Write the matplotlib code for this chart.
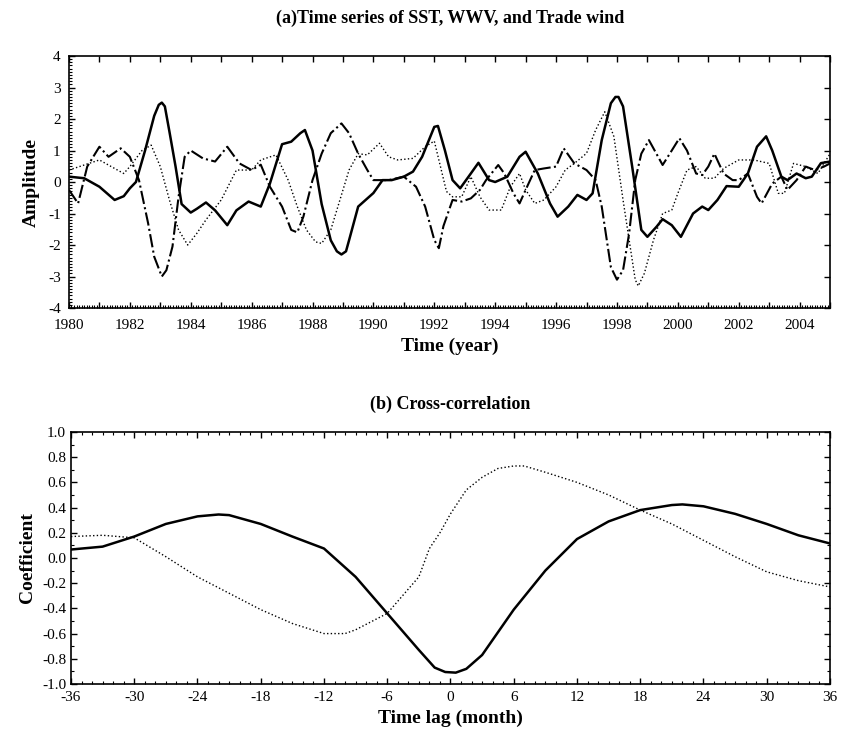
import matplotlib
matplotlib.use("Agg")
import matplotlib.pyplot as plt
from matplotlib.ticker import MultipleLocator, FuncFormatter

plt.rcParams['font.family'] = ['Liberation Serif', 'DejaVu Serif']
plt.rcParams['axes.unicode_minus'] = False

# (a) time series
sst_year = [1980.0, 1980.5, 1981.0, 1981.5, 1981.8, 1982.0, 1982.2, 1982.5, 1982.8, 1982.95, 1983.05,
            1983.15, 1983.3, 1983.5, 1983.7, 1984.0, 1984.2, 1984.5, 1984.8, 1985.2, 1985.5, 1985.9,
            1986.3, 1986.6, 1987.0, 1987.3, 1987.6, 1987.75, 1988.0, 1988.3, 1988.6, 1988.8, 1988.95,
            1989.1, 1989.2, 1989.5, 1990.0, 1990.3, 1990.6, 1991.0, 1991.3, 1991.6, 1992.0, 1992.12,
            1992.35, 1992.6, 1992.85, 1993.2, 1993.45, 1993.8, 1994.0, 1994.4, 1994.8, 1995.0,
            1995.4, 1995.8, 1996.05, 1996.4, 1996.7, 1997.0, 1997.2, 1997.5, 1997.8, 1997.95, 1998.05,
            1998.2, 1998.5, 1998.8, 1999.0, 1999.3, 1999.5, 1999.8, 2000.1, 2000.5, 2000.8,
            2001.0, 2001.3, 2001.6, 2002.0, 2002.3, 2002.6, 2002.9, 2003.1, 2003.4, 2003.6,
            2003.9, 2004.2, 2004.4, 2004.7, 2005.0]
sst = [0.17, 0.12, -0.15, -0.57, -0.45, -0.2, 0.0, 1.0, 2.1, 2.45, 2.52,
       2.4, 1.6, 0.5, -0.7, -0.97, -0.85, -0.65, -0.9, -1.37, -0.9, -0.62,
       -0.78, -0.05, 1.2, 1.28, 1.55, 1.65, 1.0, -0.7, -1.85, -2.2, -2.3,
       -2.2, -1.85, -0.78, -0.35, 0.06, 0.06, 0.17, 0.33, 0.8, 1.75, 1.78,
       1.0, 0.06, -0.2, 0.27, 0.61, 0.06, 0.0, 0.17, 0.8, 0.96,
       0.27, -0.68, -1.1, -0.78, -0.41, -0.57, -0.36, 1.33, 2.5, 2.7, 2.7,
       2.4, 0.49, -1.52, -1.74, -1.42, -1.18, -1.37, -1.74, -1.0, -0.78,
       -0.89, -0.57, -0.13, -0.15, 0.27, 1.12, 1.45, 1.0, 0.17, 0.06,
       0.27, 0.12, 0.17, 0.6, 0.65]

wwv_year = [1980.0, 1980.3, 1980.6, 1981.0, 1981.3, 1981.7, 1982.0, 1982.3, 1982.6, 1982.8,
            1983.05, 1983.2, 1983.4, 1983.6, 1983.8, 1984.0, 1984.4, 1984.8, 1985.2, 1985.6,
            1986.0, 1986.3, 1986.6, 1987.0, 1987.3, 1987.5, 1987.7, 1988.0, 1988.3, 1988.6,
            1988.95, 1989.2, 1989.5, 1989.8, 1990.0, 1990.5, 1991.0, 1991.4, 1991.7, 1992.0,
            1992.15, 1992.3, 1992.6, 1992.9, 1993.2, 1993.5, 1993.7, 1994.1, 1994.3, 1994.6,
            1994.8, 1995.0, 1995.3, 1995.6, 1996.0, 1996.25, 1996.6, 1997.0, 1997.3, 1997.5,
            1997.8, 1998.0, 1998.2, 1998.4, 1998.6, 1998.8, 1999.05, 1999.5, 1999.8, 2000.05,
            2000.3, 2000.6, 2000.8, 2001.0, 2001.2, 2001.5, 2001.8, 2002.0, 2002.3, 2002.6,
            2002.75, 2003.1, 2003.4, 2003.6, 2003.9, 2004.2, 2004.5, 2004.8, 2005.0]
wwv = [-0.25, -0.68, 0.49, 1.12, 0.8, 1.07, 0.8, 0.06, -1.31, -2.37,
       -3.0, -2.8, -2.05, -0.47, 0.8, 1.0, 0.75, 0.65, 1.12, 0.59,
       0.38, 0.55, -0.15, -0.78, -1.52, -1.6, -1.1, 0.06, 0.9, 1.55,
       1.86, 1.55, 0.9, 0.38, 0.06, 0.06, 0.17, -0.15, -0.78, -1.84,
       -2.1, -1.4, -0.57, -0.62, -0.52, -0.25, 0.06, 0.54, 0.27, -0.36,
       -0.68, -0.25, 0.38, 0.43, 0.49, 1.07, 0.59, 0.38, 0.06, -0.78,
       -2.7, -3.1, -2.8, -1.63, 0.06, 0.9, 1.33, 0.54, 1.0, 1.39,
       1.0, 0.27, 0.22, 0.49, 0.9, 0.27, 0.06, 0.06, 0.27, -0.47,
       -0.68, -0.05, 0.17, -0.25, 0.06, 0.49, 0.38, 0.49, 0.59]

wind_year = [1980.0, 1980.5, 1981.0, 1981.5, 1981.8, 1982.0, 1982.4, 1982.7, 1983.0, 1983.3,
             1983.6, 1983.9, 1984.2, 1984.5, 1985.0, 1985.5, 1986.0, 1986.3, 1986.8, 1987.2,
             1987.5, 1987.8, 1988.1, 1988.3, 1988.6, 1988.9, 1989.2, 1989.5, 1989.8, 1990.2,
             1990.5, 1990.8, 1991.3, 1991.7, 1992.0, 1992.2, 1992.4, 1992.6, 1992.9, 1993.2,
             1993.5, 1993.8, 1994.2, 1994.5, 1994.8, 1995.0, 1995.3, 1995.6, 1996.0, 1996.3,
             1996.6, 1997.0, 1997.3, 1997.6, 1997.9, 1998.2, 1998.4, 1998.6, 1998.7, 1998.9,
             1999.2, 1999.5, 1999.8, 2000.0, 2000.3, 2000.6, 2000.9, 2001.2, 2001.5, 2002.0,
             2002.5, 2003.0, 2003.3, 2003.5, 2003.8, 2004.2, 2004.6, 2005.0]
wind = [0.38, 0.54, 0.7, 0.43, 0.27, 0.49, 1.0, 1.17, 0.49, -0.57,
        -1.52, -2.0, -1.63, -1.2, -0.57, 0.38, 0.38, 0.7, 0.86, 0.06,
        -0.78, -1.52, -1.9, -1.95, -1.52, -0.57, 0.38, 0.9, 0.86, 1.23,
        0.8, 0.7, 0.75, 1.12, 1.3, 0.5, -0.3, -0.47, -0.47, 0.17,
        -0.47, -0.89, -0.89, -0.15, 0.27, -0.25, -0.68, -0.57, -0.15, 0.38,
        0.59, 0.91, 1.65, 2.23, 1.44, -0.57, -1.84, -3.1, -3.3, -2.9,
        -1.84, -1.0, -0.89, -0.36, 0.38, 0.49, 0.12, 0.12, 0.43, 0.7,
        0.7, 0.59, -0.36, -0.36, 0.59, 0.49, 0.27, 0.9]

# (b) cross-correlation
lag_solid = [-36, -33, -30, -27, -24, -22, -21, -18, -15, -12, -9, -6, -3, -1.5, -0.5,
             0.5, 1.5, 3, 6, 9, 12, 15, 18, 21, 22, 24, 27, 30, 33, 36]
corr_solid = [0.067, 0.09, 0.17, 0.27, 0.33, 0.345, 0.34, 0.27, 0.17, 0.075, -0.15, -0.44, -0.73, -0.87, -0.905,
              -0.91, -0.88, -0.77, -0.41, -0.1, 0.15, 0.29, 0.38, 0.42, 0.425, 0.41, 0.35, 0.27, 0.18, 0.115]
lag_dot = [-36, -33, -30, -27, -24, -21, -18, -15, -12, -10, -9, -6, -3, -2, -1,
           0, 1.5, 3, 4.5, 6, 7, 9, 12, 15, 18, 21, 24, 27, 30, 33, 36]
corr_dot = [0.17, 0.18, 0.16, 0.01, -0.15, -0.28, -0.41, -0.52, -0.6, -0.6, -0.57, -0.44, -0.15, 0.075, 0.2,
            0.35, 0.54, 0.64, 0.71, 0.73, 0.73, 0.68, 0.6, 0.5, 0.38, 0.27, 0.14, 0.01, -0.11, -0.18, -0.23]

fig = plt.figure(figsize=(8.41, 7.32), dpi=100)

# Panel (a)
ax1 = fig.add_axes([0.082, 0.5792, 0.905, 0.3443])
ax1.plot(sst_year, sst, color='black', lw=1.8, linestyle='-')
ax1.plot(wwv_year, wwv, color='black', lw=1.5, linestyle='-.')
ax1.plot(wind_year, wind, color='black', lw=1.0, linestyle=':')
ax1.set_xlim(1980, 2005)
ax1.set_ylim(-4, 4)
ax1.xaxis.set_major_locator(MultipleLocator(1))
ax1.xaxis.set_major_formatter(FuncFormatter(lambda v, p: f"{int(round(v))}" if int(round(v)) % 2 == 0 else ""))
ax1.xaxis.set_minor_locator(MultipleLocator(1 / 12))
ax1.yaxis.set_major_locator(MultipleLocator(1))
ax1.yaxis.set_minor_locator(MultipleLocator(0.1))
ax1.set_xlabel("Time (year)", fontsize=14, fontweight='bold', labelpad=4)
ax1.set_ylabel("Amplitude", fontsize=14, fontweight='bold', labelpad=6)
fig.text(0.535, 0.975, "(a)Time series of SST, WWV, and Trade wind",
         ha='center', va='center', fontsize=13, fontweight='bold')

# Panel (b)
ax2 = fig.add_axes([0.0844, 0.0656, 0.9025, 0.3443])
ax2.plot(lag_solid, corr_solid, color='black', lw=1.8, linestyle='-')
ax2.plot(lag_dot, corr_dot, color='black', lw=1.0, linestyle=':')
ax2.set_xlim(-36, 36)
ax2.set_ylim(-1, 1)
ax2.xaxis.set_major_locator(MultipleLocator(6))
ax2.xaxis.set_minor_locator(MultipleLocator(1))
ax2.yaxis.set_major_locator(MultipleLocator(0.2))
ax2.yaxis.set_minor_locator(MultipleLocator(0.1))
ax2.yaxis.set_major_formatter(plt.FormatStrFormatter('%.1f'))
ax2.set_xlabel("Time lag (month)", fontsize=14, fontweight='bold', labelpad=4)
ax2.set_ylabel("Coefficient", fontsize=14, fontweight='bold', labelpad=4)
fig.text(0.535, 0.447, "(b) Cross-correlation",
         ha='center', va='center', fontsize=13, fontweight='bold')

for ax in (ax1, ax2):
    ax.tick_params(which='both', direction='in', top=True, right=True, labelsize=11)
    ax.tick_params(which='major', length=4, width=1)
    ax.tick_params(which='minor', length=2, width=0.8)
    ax.tick_params(axis='x', which='major', pad=5)
    for s in ax.spines.values():
        s.set_linewidth(1.2)

# top panel: dense minor ticks only along the bottom and left spines
ax1.tick_params(which='minor', top=False, right=False)
ax1.tick_params(axis='x', which='major', pad=8)
ax1.tick_params(axis='y', which='major', pad=6)

fig.savefig("out.png", dpi=100)
